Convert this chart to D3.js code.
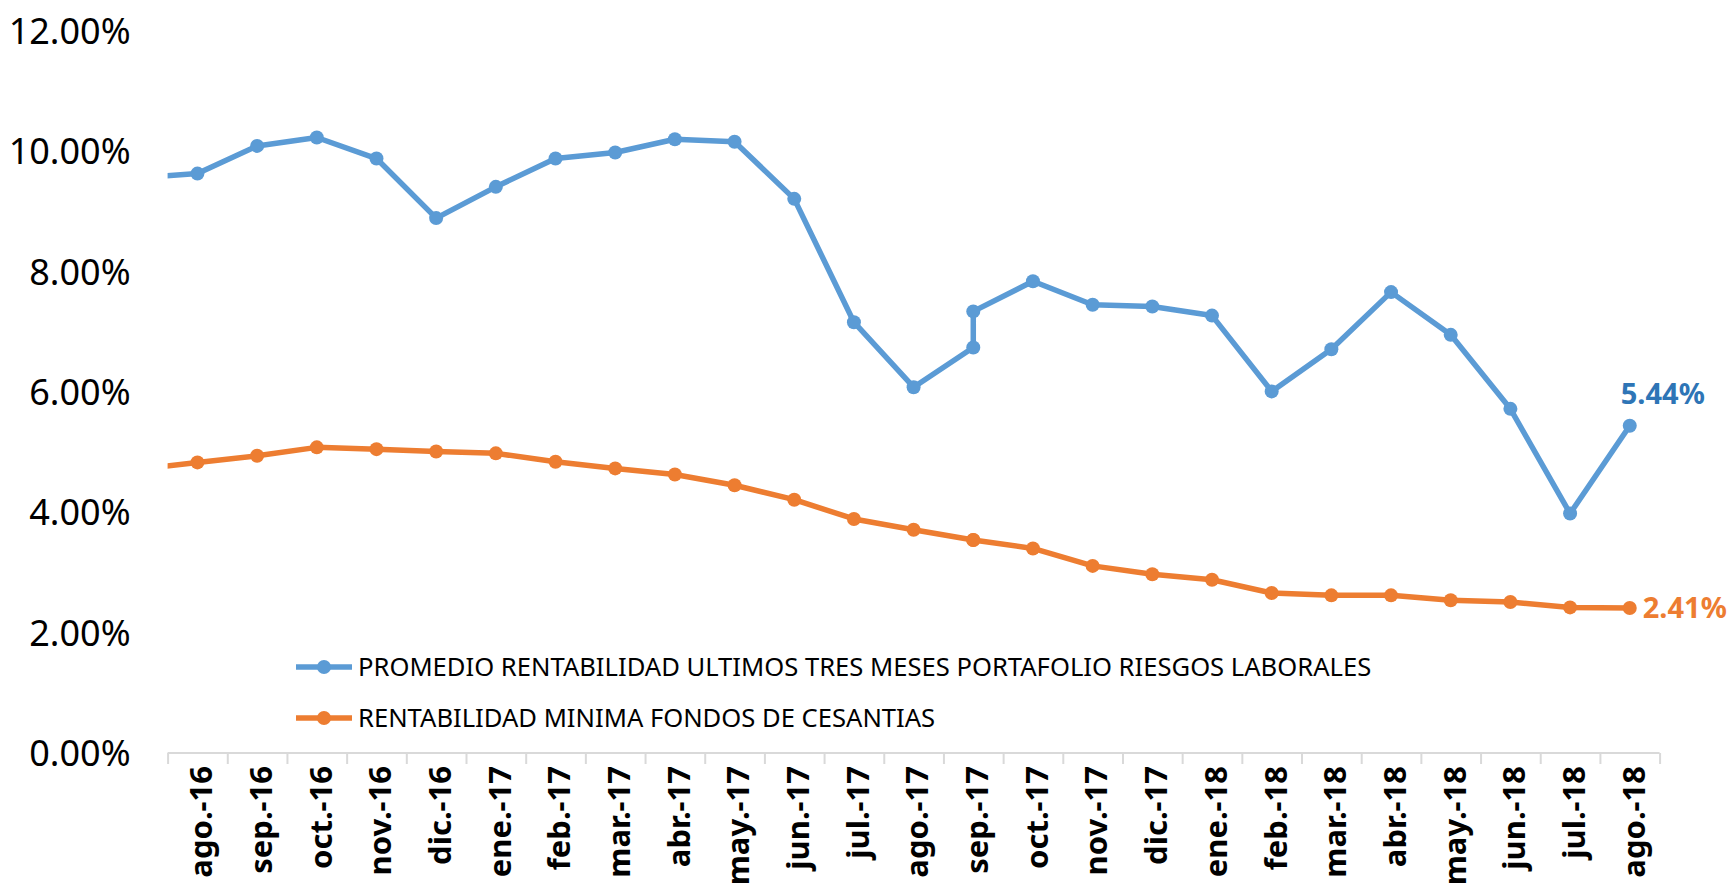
<!DOCTYPE html>
<html>
<head>
<meta charset="utf-8">
<script src="https://cdn.jsdelivr.net/npm/d3@7"></script>
<style>
  body { margin: 0; background: #fff; }
  svg { display: block; font-family: "Noto Sans", "Open Sans", sans-serif; }
</style>
</head>
<body>
<svg id="chart" width="1729" height="887"></svg>
<script>
// categorías del eje (meses)
const meses = ["ago.-16","sep.-16","oct.-16","nov.-16","dic.-16","ene.-17","feb.-17","mar.-17",
  "abr.-17","may.-17","jun.-17","jul.-17","ago.-17","sep.-17","oct.-17","nov.-17","dic.-17",
  "ene.-18","feb.-18","mar.-18","abr.-18","may.-18","jun.-18","jul.-18","ago.-18"];

// fecha de cada dato (jul.-16 queda fuera del área, sep.-17 tiene dos cortes)
const fechas = ["jul.-16","ago.-16","sep.-16","oct.-16","nov.-16","dic.-16","ene.-17","feb.-17",
  "mar.-17","abr.-17","may.-17","jun.-17","jul.-17","ago.-17","sep.-17","sep.-17","oct.-17",
  "nov.-17","dic.-17","ene.-18","feb.-18","mar.-18","abr.-18","may.-18","jun.-18","jul.-18","ago.-18"];

// series (%)
const promedioRiesgos = [9.56, 9.63, 10.09, 10.23, 9.88, 8.89, 9.41, 9.88, 9.98, 10.20, 10.16, 9.21,
  7.16, 6.08, 6.74, 7.34, 7.84, 7.45, 7.42, 7.27, 6.01, 6.71, 7.66, 6.95, 5.72, 3.98, 5.44];
const minimaCesantias = [4.71, 4.83, 4.94, 5.08, 5.05, 5.01, 4.98, 4.84, 4.73, 4.63, 4.45, 4.21,
  3.89, 3.71, 3.54, 3.54, 3.40, 3.11, 2.97, 2.88, 2.66, 2.62, 2.62, 2.54, 2.51, 2.42, 2.41];

const yTicks = [0, 2, 4, 6, 8, 10, 12];

const series = [
  { nombre: "PROMEDIO RENTABILIDAD ULTIMOS TRES MESES PORTAFOLIO RIESGOS LABORALES",
    valores: promedioRiesgos, color: "#5B9BD5", colorEtiqueta: "#2E75B6" },
  { nombre: "RENTABILIDAD MINIMA FONDOS DE CESANTIAS",
    valores: minimaCesantias, color: "#ED7D31", colorEtiqueta: "#ED7D31" }
];

const svg = d3.select("#chart");
const mLeft = 167.6, mRight = 1659.6, mTop = 31, mBottom = 753;

// índice de mes para cada fecha (jul.-16 => -1)
const idx = f => f === "jul.-16" ? -1 : meses.indexOf(f);

const x = d3.scaleLinear().domain([-0.5, meses.length - 0.5]).range([mLeft, mRight]);
const y = d3.scaleLinear().domain([0, 12]).range([mBottom, mTop]);

// eje Y
const yAxis = svg.append("g")
  .attr("transform", `translate(${mLeft - 37},0)`)
  .call(d3.axisLeft(y).tickValues(yTicks).tickSize(0).tickPadding(0)
    .tickFormat(d => d.toFixed(2) + "%"));
yAxis.select(".domain").remove();
yAxis.selectAll("text")
  .attr("font-family", "Noto Sans")
  .attr("font-size", 36)
  .attr("fill", "#000")
  .attr("dy", "0.35em");

// eje X (marcas en los límites de cada mes)
const xAxis = svg.append("g")
  .attr("transform", `translate(0,${mBottom})`)
  .call(d3.axisBottom(x).tickValues(d3.range(-0.5, meses.length, 1)).tickSize(11).tickFormat(""));
xAxis.select(".domain").attr("stroke", "#D9D9D9").attr("stroke-width", 2).attr("d", `M${mLeft},0H${mRight}`);
xAxis.selectAll(".tick line").attr("stroke", "#D9D9D9").attr("stroke-width", 2);

svg.append("g")
  .selectAll("text")
  .data(meses)
  .join("text")
  .attr("transform", (d, i) => `translate(${x(i) + 4},${mBottom + 13}) rotate(-90)`)
  .attr("text-anchor", "end")
  .attr("dy", "0.35em")
  .attr("font-size", 31)
  .attr("font-weight", "bold")
  .attr("fill", "#000")
  .text(d => d);

// líneas
svg.append("clipPath").attr("id", "area")
  .append("rect").attr("x", mLeft).attr("y", 0).attr("width", mRight - mLeft + 80).attr("height", mBottom + 20);

const linea = d3.line()
  .x((d, i) => x(idx(fechas[i])))
  .y(d => y(d));

const plot = svg.append("g").attr("clip-path", "url(#area)");

series.forEach(s => {
  plot.append("path")
    .datum(s.valores)
    .attr("fill", "none")
    .attr("stroke", s.color)
    .attr("stroke-width", 5.5)
    .attr("stroke-linejoin", "round")
    .attr("d", linea);

  plot.append("g")
    .selectAll("circle")
    .data(s.valores)
    .join("circle")
    .attr("cx", (d, i) => x(idx(fechas[i])))
    .attr("cy", d => y(d))
    .attr("r", 7)
    .attr("fill", s.color);
});

// etiquetas del último dato
const n = fechas.length - 1;
svg.append("text")
  .attr("x", x(idx(fechas[n])) - 9)
  .attr("y", y(promedioRiesgos[n]) - 32)
  .attr("dy", "0.35em")
  .attr("font-size", 29)
  .attr("font-weight", "bold")
  .attr("fill", series[0].colorEtiqueta)
  .text(promedioRiesgos[n].toFixed(2) + "%");

svg.append("text")
  .attr("x", x(idx(fechas[n])) + 13)
  .attr("y", y(minimaCesantias[n]))
  .attr("dy", "0.35em")
  .attr("font-size", 29)
  .attr("font-weight", "bold")
  .attr("fill", series[1].colorEtiqueta)
  .text(minimaCesantias[n].toFixed(2) + "%");

// leyenda
const leyenda = svg.append("g")
  .selectAll("g")
  .data(series)
  .join("g")
  .attr("transform", (d, i) => `translate(296,${667 + i * 51})`);

leyenda.append("line")
  .attr("x1", 0).attr("x2", 56)
  .attr("stroke", d => d.color)
  .attr("stroke-width", 5.5);
leyenda.append("circle")
  .attr("cx", 28).attr("r", 7)
  .attr("fill", d => d.color);
leyenda.append("text")
  .attr("x", 62)
  .attr("dy", "0.35em")
  .attr("font-size", 25.6)
  .attr("fill", "#000")
  .text(d => d.nombre);
</script>
</body>
</html>
